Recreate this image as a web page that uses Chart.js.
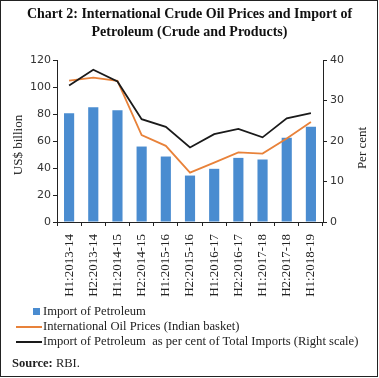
<!DOCTYPE html>
<html>
<head>
<meta charset="utf-8">
<script src="https://cdn.jsdelivr.net/npm/chart.js@4.4.1/dist/chart.umd.min.js"></script>
<style>
  html, body { margin: 0; padding: 0; background: #fff; }
  #wrap { position: relative; width: 379px; height: 378px; overflow: hidden; }
  #frame { position: absolute; left: 0; top: 0; width: 376px; height: 375px; border: 1.5px solid #222; }
  #chart { position: absolute; left: 0; top: 0; }
  #title {
    position: absolute; left: 0; top: 5px; width: 379px; text-align: center;
    font: bold 14px "Liberation Serif", "DejaVu Serif", serif; line-height: 18px; color: #111;
  }
  .axt {
    position: absolute; width: 120px; height: 16px; line-height: 16px; text-align: center;
    font: 13px "Liberation Serif", serif; color: #222; transform: rotate(-90deg);
  }
  #legend {
    position: absolute; left: 16px; top: 304px;
    font: 12.6px "Liberation Serif", serif; color: #222; line-height: 15px;
  }
  .item { display: flex; align-items: center; height: 15px; }
  .box { width: 7px; height: 7px; margin-left: 17px; margin-right: 3px; }
  .line { width: 26px; height: 2px; margin-right: 1px; }
  #source { position: absolute; left: 12px; top: 356px; font: 12.5px "Liberation Serif", serif; color: #222; }
</style>
</head>
<body>
<div id="wrap">
  <canvas id="chart" width="379" height="378"></canvas>
  <div id="title">Chart 2: International Crude Oil Prices and Import of<br>Petroleum (Crude and Products)</div>
  <div class="axt" id="ytitle" style="left:-42px; top:137px;">US$ billion</div>
  <div class="axt" id="y1title" style="left:302px; top:140px;">Per cent</div>
  <div id="legend"></div>
  <div id="source"><b>Source:</b> RBI.</div>
  <div id="frame"></div>
</div>
<script>
const periods = ['H1:2013-14', 'H2:2013-14', 'H1:2014-15', 'H2:2014-15', 'H1:2015-16', 'H2:2015-16',
                 'H1:2016-17', 'H2:2016-17', 'H1:2017-18', 'H2:2017-18', 'H1:2018-19'];
// US$ billion (left scale)
const petroleumImports = [80.5, 85, 82.7, 55.9, 48.5, 34.4, 39.4, 47.5, 46.3, 62.4, 70.5];
const oilPrices = [104.7, 107, 104.5, 64.4, 56.4, 36.6, 44, 51.5, 50.7, 61.9, 74];
// per cent of total imports (right scale)
const petroleumShare = [33.7, 37.6, 34.7, 25.4, 23.5, 18.4, 21.7, 23, 20.9, 25.6, 26.9];

const leftTicks = [0, 20, 40, 60, 80, 100, 120];
const rightTicks = [0, 10, 20, 30, 40];

const BLUE = '#4a8cd0';
const ORANGE = '#e8823a';
const BLACK = '#1a1a1a';

const sansTick = { family: 'Verdana, "DejaVu Sans", sans-serif', size: 11 };
const serif = '"Liberation Serif", "DejaVu Serif", serif';

const datasets = [
    {
        type: 'line',
        label: 'Import of Petroleum  as per cent of Total Imports (Right scale)',
        data: petroleumShare,
        borderColor: BLACK,
        borderWidth: 1.8,
        pointRadius: 0,
        tension: 0,
        yAxisID: 'y1',
        order: 0
    },
    {
        type: 'line',
        label: 'International Oil Prices (Indian basket)',
        data: oilPrices,
        borderColor: ORANGE,
        borderWidth: 1.8,
        pointRadius: 0,
        tension: 0,
        yAxisID: 'y',
        order: 1
    },
    {
        type: 'bar',
        label: 'Import of Petroleum',
        data: petroleumImports,
        backgroundColor: BLUE,
        barPercentage: 0.42,
        categoryPercentage: 1,
        yAxisID: 'y',
        order: 2
    }
];

function axisGrid() {
    return { display: true, drawOnChartArea: false, drawTicks: true, tickLength: 4, color: '#222', lineWidth: 1 };
}

new Chart(document.getElementById('chart'), {
    data: { labels: periods, datasets: datasets },
    options: {
        responsive: false,
        animation: false,
        layout: { padding: { top: 60, left: 0, right: 0, bottom: 0 } },
        plugins: { legend: { display: false }, tooltip: { enabled: false } },
        scales: {
            x: {
                offset: true,
                grid: axisGrid(),
                border: { display: true, color: '#222', width: 1 },
                ticks: {
                    color: '#222', font: { family: serif, size: 13 },
                    minRotation: 90, maxRotation: 90, padding: 8, autoSkip: false
                },
                afterFit: s => { s.height = 378 - 222; }
            },
            y: {
                position: 'left',
                min: 0, max: 120,
                afterBuildTicks: s => { s.ticks = leftTicks.map(v => ({ value: v })); },
                grid: axisGrid(),
                border: { display: true, color: '#222', width: 1 },
                ticks: { color: '#333', font: sansTick, padding: 2 },
                afterFit: s => { s.width = 57; }
            },
            y1: {
                position: 'right',
                min: 0, max: 40,
                afterBuildTicks: s => { s.ticks = rightTicks.map(v => ({ value: v })); },
                grid: axisGrid(),
                border: { display: true, color: '#222', width: 1 },
                ticks: { color: '#333', font: sansTick, padding: 3 },
                afterFit: s => { s.width = 379 - 323; }
            }
        }
    }
});

// legend in the original order: bars first, then the two lines
const legend = document.getElementById('legend');
[datasets[2], datasets[1], datasets[0]].forEach(ds => {
    const row = document.createElement('div');
    row.className = 'item';
    const mark = document.createElement('span');
    if (ds.type === 'bar') {
        mark.className = 'box';
        mark.style.background = ds.backgroundColor;
    } else {
        mark.className = 'line';
        mark.style.background = ds.borderColor;
    }
    const txt = document.createElement('span');
    txt.textContent = ds.label;
    txt.style.whiteSpace = 'pre';
    row.appendChild(mark);
    row.appendChild(txt);
    legend.appendChild(row);
});
</script>
</body>
</html>
